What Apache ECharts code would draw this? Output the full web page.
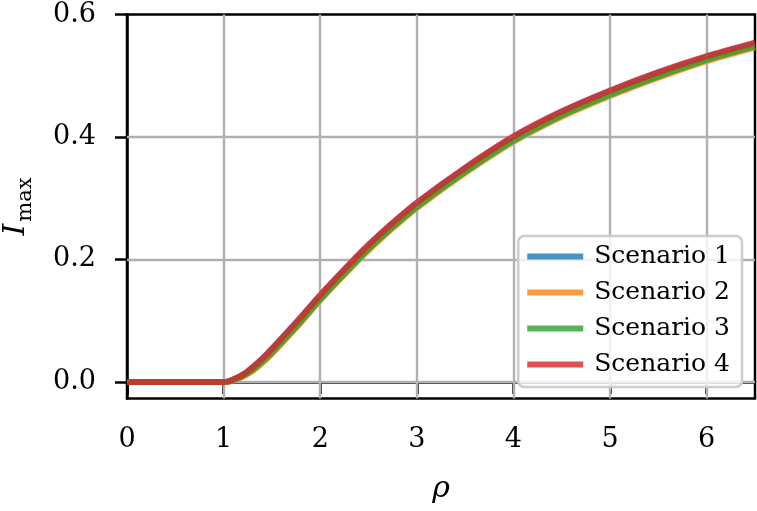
<!DOCTYPE html>
<html>
<head>
<meta charset="utf-8">
<script src="https://cdn.jsdelivr.net/npm/echarts@6/dist/echarts.min.js"></script>
<style>
  html, body { margin: 0; padding: 0; background: #fff; }
  #chart { width: 757px; height: 511px; }
</style>
</head>
<body>
<div id="chart"></div>
<script>
// rho values (x) and Imax for each scenario
const rho = [0, 0.5, 1.0, 1.05, 1.1, 1.2, 1.3, 1.4, 1.5, 1.75, 2.0, 2.25, 2.5, 2.75, 3.0, 3.5, 4.0, 4.5, 5.0, 5.5, 6.0, 6.5];
const scenario1 = [0, 0, 0, 0.001, 0.004, 0.012, 0.024, 0.038, 0.054, 0.097, 0.141, 0.183, 0.223, 0.259, 0.292, 0.349, 0.400, 0.441, 0.475, 0.505, 0.531, 0.553];
const scenario2 = [0, 0, 0, 0.0004, 0.002, 0.009, 0.018, 0.031, 0.046, 0.088, 0.133, 0.175, 0.215, 0.251, 0.284, 0.341, 0.392, 0.433, 0.467, 0.497, 0.524, 0.546];
const scenario3 = [0, 0, 0, 0.0005, 0.003, 0.010, 0.020, 0.033, 0.048, 0.090, 0.135, 0.177, 0.217, 0.253, 0.286, 0.343, 0.394, 0.435, 0.469, 0.499, 0.526, 0.548];
const scenario4 = [0, 0, 0, 0.001, 0.004, 0.012, 0.024, 0.038, 0.054, 0.097, 0.142, 0.184, 0.224, 0.260, 0.293, 0.350, 0.401, 0.442, 0.476, 0.506, 0.532, 0.554];

const names = ['Scenario 1', 'Scenario 2', 'Scenario 3', 'Scenario 4'];
const colors = ['rgba(31,119,180,0.8)', 'rgba(255,127,14,0.8)', 'rgba(44,160,44,0.8)', 'rgba(214,39,40,0.8)'];

const xTicks = [0, 1, 2, 3, 4, 5, 6];
const yTicks = [0, 0.2, 0.4, 0.6];
const xGrid = [1, 2, 3, 4, 5, 6];
const yGrid = [0, 0.2, 0.4];

const font = 'DejaVu Serif';

function pairs(ys) {
  return rho.map((x, i) => [x, ys[i]]);
}

const chart = echarts.init(document.getElementById('chart'), null, { renderer: 'canvas' });

const lineSeries = [scenario1, scenario2, scenario3, scenario4].map((ys, i) => ({
  name: names[i],
  type: 'line',
  data: pairs(ys),
  symbol: 'none',
  smooth: 0.25,
  color: colors[i],
  lineStyle: { width: 6, color: colors[i] },
  z: 3 + i
}));

// grid lines drawn under the curves
const gridSeries = {
  type: 'line',
  data: [],
  silent: true,
  z: 1,
  markLine: {
    silent: true,
    symbol: 'none',
    label: { show: false },
    animation: false,
    lineStyle: { type: 'solid', color: '#b0b0b0', width: 2.4 },
    data: xGrid.map(v => ({ xAxis: v })).concat(yGrid.map(v => ({ yAxis: v })))
  }
};

chart.setOption({
  animation: false,
  backgroundColor: '#fff',
  grid: {
    left: 127, right: 2, top: 14.5, bottom: 112.5,
    outerBoundsMode: 'none',
    containLabel: false,
    show: true, borderColor: '#000', borderWidth: 2.5
  },
  legend: {
    orient: 'vertical',
    right: 15,
    bottom: 124,
    z: 20,
    icon: 'rect',
    itemWidth: 56,
    itemHeight: 6,
    itemGap: 11,
    padding: [8, 12, 10, 9],
    backgroundColor: 'rgba(255,255,255,0.8)',
    borderColor: '#cccccc',
    borderWidth: 2.5,
    borderRadius: 6,
    textStyle: { fontFamily: font, fontSize: 25, color: '#000', padding: [0, 0, 0, 6] },
    data: names
  },
  xAxis: {
    type: 'value',
    min: 0,
    max: 6.5,
    interval: 1,
    name: 'ρ',
    nameLocation: 'middle',
    nameGap: 76,
    nameTextStyle: { fontFamily: font, fontSize: 30, fontStyle: 'italic', color: '#000' },
    axisLine: { show: true, lineStyle: { color: '#000', width: 2.5 } },
    axisTick: { show: true, length: 12, customValues: xTicks, lineStyle: { color: '#000', width: 2.5 } },
    axisLabel: { customValues: xTicks, margin: 28, fontFamily: font, fontSize: 27, color: '#000' },
    splitLine: { show: false }
  },
  yAxis: {
    type: 'value',
    min: -0.027,
    max: 0.6,
    name: '{i|I}{s|max}',
    nameLocation: 'middle',
    nameRotate: 90,
    nameGap: 91,
    nameTextStyle: {
      color: '#000',
      rich: {
        i: { fontFamily: font, fontSize: 30, fontStyle: 'italic', verticalAlign: 'bottom', padding: [0, 2, 5, 0], color: '#000' },
        s: { fontFamily: font, fontSize: 21, verticalAlign: 'bottom', color: '#000' }
      }
    },
    axisLine: { show: true, lineStyle: { color: '#000', width: 2.5 } },
    axisTick: { show: true, length: 12, customValues: yTicks, lineStyle: { color: '#000', width: 2.5 } },
    axisLabel: {
      customValues: yTicks,
      margin: 31,
      fontFamily: font,
      fontSize: 27,
      color: '#000',
      formatter: v => v.toFixed(1)
    },
    splitLine: { show: false }
  },
  series: [gridSeries].concat(lineSeries)
});
</script>
</body>
</html>
